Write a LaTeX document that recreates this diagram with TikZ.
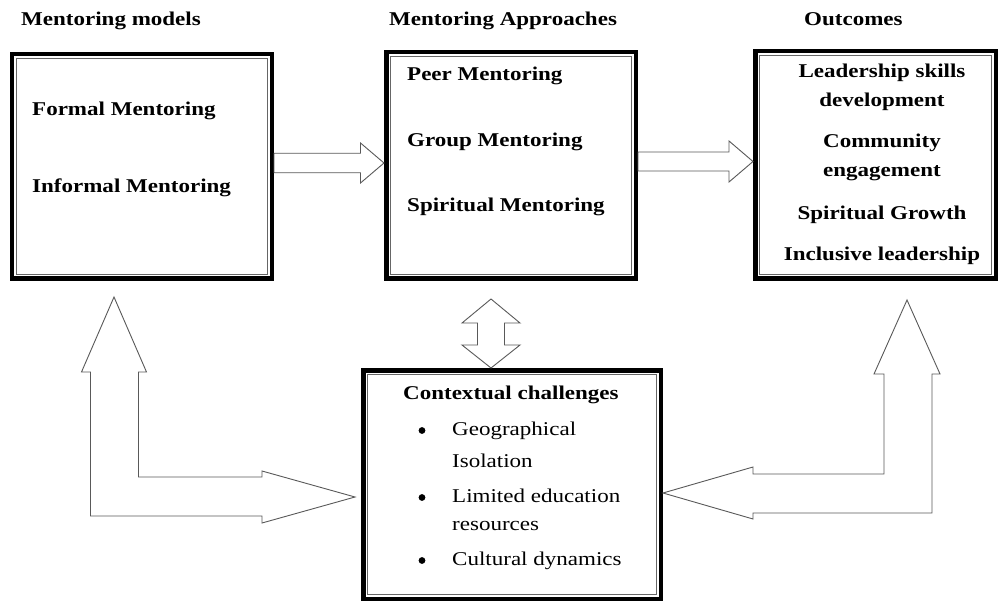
\documentclass[tikz,border=0pt]{standalone}
\usepackage{fontspec}
\setmainfont{Liberation Serif}[FakeStretch=1.18]
\usetikzlibrary{calc}

\tikzset{
  frame/.style={draw=black, line width=4.5pt, inner sep=0pt},
  innerline/.style={draw=black!60, line width=1.3pt},
  blockarrow/.style={draw=black!65, line width=0.9pt, fill=white, line join=miter},
  txt/.style={inner sep=0pt, font=\fontsize{19.5}{23}\selectfont},
  btxt/.style={txt, font=\fontsize{19.5}{23}\selectfont\bfseries},
  bulletdot/.style={circle, fill=black, inner sep=0pt, minimum size=6.8pt},
}

\begin{document}
\begin{tikzpicture}[x=1pt,y=1pt]
\useasboundingbox (0,0) rectangle (1000,-601);

% column headings
\node[btxt, anchor=base west] (hmodels) at (21,-26) {Mentoring models};
\node[btxt, anchor=base west] (happr) at (389,-26) {Mentoring Approaches};
\node[btxt, anchor=base west] (hout) at (804,-26) {Outcomes};

% framed boxes
\node[frame, minimum width=260pt, minimum height=224.5pt] (models) at (141.75,-166.5) {};
\node[frame, minimum width=249.5pt, minimum height=226.5pt] (approaches) at (511,-165.5) {};
\node[frame, minimum width=240.5pt, minimum height=227.5pt] (outcomes) at (875.5,-165) {};
\node[frame, minimum width=297.5pt, minimum height=228.5pt] (challenges) at (512,-484.5) {};

\foreach \n in {models,approaches,outcomes,challenges}
  \draw[innerline] ([shift={(6.8pt,-6.8pt)}]\n.north west) rectangle ([shift={(-6.8pt,6.8pt)}]\n.south east);

% mentoring models
\node[btxt, anchor=base west] (formal) at (32,-116) {Formal Mentoring};
\node[btxt, anchor=base west] (informal) at (32,-193) {Informal Mentoring};

% mentoring approaches
\node[btxt, anchor=base west] (peer) at (407,-81) {Peer Mentoring};
\node[btxt, anchor=base west] (group) at (407,-147) {Group Mentoring};
\node[btxt, anchor=base west] (spirit) at (407,-212) {Spiritual Mentoring};

% outcomes
\node[btxt, anchor=base] (o1) at (882,-78) {Leadership skills};
\node[btxt, anchor=base] (o2) at (882,-107) {development};
\node[btxt, anchor=base] (o3) at (882,-148) {Community};
\node[btxt, anchor=base] (o4) at (882,-177) {engagement};
\node[btxt, anchor=base] (o5) at (882,-220) {Spiritual Growth};
\node[btxt, anchor=base] (o6) at (882,-261) {Inclusive leadership};

% contextual challenges
\node[btxt, anchor=base west] (ctitle) at (403,-399) {Contextual challenges};
\node[bulletdot] (b1) at (422,-430.5) {};
\node[bulletdot] (b2) at (422,-497.5) {};
\node[bulletdot] (b3) at (422,-560.5) {};
\node[txt, anchor=base west] (c1) at (452,-435) {Geographical};
\node[txt, anchor=base west] (c2) at (452,-467) {Isolation};
\node[txt, anchor=base west] (c3) at (452,-502) {Limited education};
\node[txt, anchor=base west] (c4) at (452,-530) {resources};
\node[txt, anchor=base west] (c5) at (452,-565) {Cultural dynamics};

% models -> approaches
\draw[blockarrow] let \p1=([yshift=3.5pt]models.east), \p2=(approaches.west) in
  (\x1,{\y1+9.75pt}) -- ({\x2-23.5pt},{\y1+9.75pt}) -- ({\x2-23.5pt},{\y1+20pt})
  -- (\x2,\y1) -- ({\x2-23.5pt},{\y1-20pt}) -- ({\x2-23.5pt},{\y1-9.75pt})
  -- (\x1,{\y1-9.75pt}) -- cycle;

% approaches -> outcomes
\draw[blockarrow] let \p1=([yshift=4pt]approaches.east), \p2=(outcomes.west) in
  (\x1,{\y1+9.5pt}) -- ({\x2-24pt},{\y1+9.5pt}) -- ({\x2-24pt},{\y1+20.5pt})
  -- (\x2,\y1) -- ({\x2-24pt},{\y1-20.5pt}) -- ({\x2-24pt},{\y1-9.5pt})
  -- (\x1,{\y1-9.5pt}) -- cycle;

% approaches <-> challenges
\draw[blockarrow] let \p1=(approaches.south), \p2=(challenges.north),
  \n1={\x2-21pt}, \n2={\y1-18pt} in
  (\n1,\n2) -- ({\n1+29pt},{\n2-24pt}) -- ({\n1+13.5pt},{\n2-24pt})
  -- ({\n1+13.5pt},{\y2+23pt}) -- ({\n1+29pt},{\y2+23pt}) -- (\n1,\y2)
  -- ({\n1-29pt},{\y2+23pt}) -- ({\n1-13.5pt},{\y2+23pt})
  -- ({\n1-13.5pt},{\n2-24pt}) -- ({\n1-29pt},{\n2-24pt}) -- cycle;

% models <-> challenges (elbow)
\coordinate (lu) at ([shift={(-27.75pt,-16pt)}]models.south);
\coordinate (lr) at ([shift={(-6pt,-12.5pt)}]challenges.west);
\draw[blockarrow] let \p1=(lu), \p2=(lr) in
  (\x1,\y1) -- ({\x1+32.5pt},{\y1-75pt}) -- ({\x1+24.5pt},{\y1-75pt})
  -- ({\x1+24.5pt},{\y2+20pt}) -- ({\x2-93pt},{\y2+20pt}) -- ({\x2-93pt},{\y2+26pt})
  -- (\x2,\y2) -- ({\x2-93pt},{\y2-26pt}) -- ({\x2-93pt},{\y2-19pt})
  -- ({\x1-23.5pt},{\y2-19pt}) -- ({\x1-23.5pt},{\y1-75pt})
  -- ({\x1-32.5pt},{\y1-75pt}) -- cycle;

% outcomes <-> challenges (elbow)
\coordinate (ru) at ([shift={(31.5pt,-19pt)}]outcomes.south);
\coordinate (rr) at ([shift={(0pt,-8.5pt)}]challenges.east);
\draw[blockarrow] let \p1=(ru), \p2=(rr) in
  (\x1,\y1) -- ({\x1+33pt},{\y1-74pt}) -- ({\x1+25pt},{\y1-74pt})
  -- ({\x1+25pt},{\y2-20pt}) -- ({\x2+90pt},{\y2-20pt}) -- ({\x2+90pt},{\y2-26pt})
  -- (\x2,\y2) -- ({\x2+90pt},{\y2+26pt}) -- ({\x2+90pt},{\y2+19pt})
  -- ({\x1-23pt},{\y2+19pt}) -- ({\x1-23pt},{\y1-74pt})
  -- ({\x1-33pt},{\y1-74pt}) -- cycle;
\end{tikzpicture}
\end{document}
